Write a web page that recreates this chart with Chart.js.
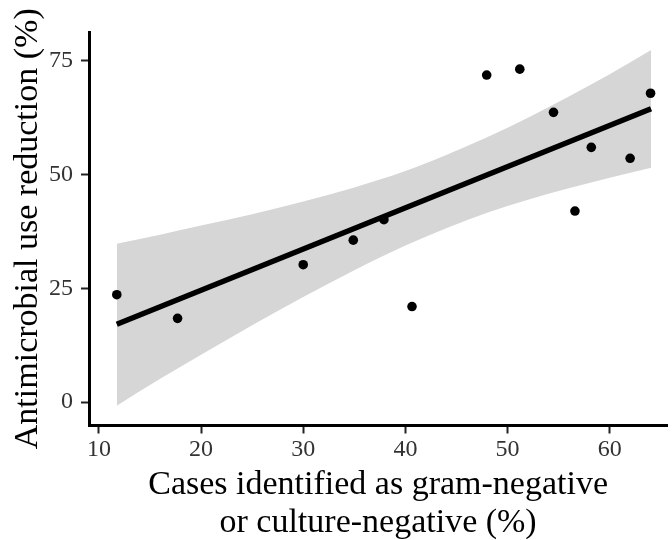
<!DOCTYPE html>
<html>
<head>
<meta charset="utf-8">
<script src="https://cdn.jsdelivr.net/npm/chart.js@4/dist/chart.umd.min.js"></script>
<style>
  body { margin: 0; background: #fff; }
  #chart { display: block; }
</style>
</head>
<body>
<canvas id="chart" width="672" height="540"></canvas>
<script>
// observed points (x = % gram-neg or culture-neg, y = % reduction)
const caseX = [11.75, 17.7, 30.0, 34.9, 37.9, 40.65, 47.96, 51.2, 54.5, 56.6, 58.2, 62.0, 64.0];
const reductionY = [23.6, 18.4, 30.2, 35.6, 40.1, 21.0, 71.9, 73.2, 63.7, 42.0, 56.0, 53.6, 67.9];

// fitted line end points
const fitX = [11.75, 64.05];
const fitY = [17.1, 64.5];

// confidence band
const bandX = [11.75, 16, 20, 25, 30, 35, 40, 44, 48, 52, 56, 60, 64.05];
const bandUpper = [34.8, 36.8, 38.8, 41.3, 44.1, 47.2, 50.8, 54.3, 58.2, 62.5, 67.2, 72.1, 77.4];
const bandLower = [-0.8, 5.1, 10.4, 16.9, 23.1, 29.0, 34.4, 38.2, 41.6, 44.5, 47.0, 49.3, 51.5];

// tick labels
const xTicks = [10, 20, 30, 40, 50, 60];
const yTicks = [0, 25, 50, 75];

const xTitle = ['Cases identified as gram-negative', 'or culture-negative (%)'];
const yTitle = 'Antimicrobial use reduction (%)';

function toXY(xs, ys) {
  return xs.map((x, i) => ({ x: x, y: ys[i] }));
}

const serif = "'Liberation Serif', 'DejaVu Serif', serif";

var ctx = document.getElementById('chart').getContext('2d');
var myChart = new Chart(ctx, {
  type: 'scatter',
  data: {
    datasets: [
      {
        label: 'points',
        data: toXY(caseX, reductionY),
        backgroundColor: '#000',
        borderColor: '#000',
        pointRadius: 4.8,
        pointBorderWidth: 0
      },
      {
        label: 'fit',
        data: toXY(fitX, fitY),
        showLine: true,
        borderColor: '#000',
        borderWidth: 5.5,
        pointRadius: 0,
        borderCapStyle: 'butt'
      },
      {
        label: 'upper',
        data: toXY(bandX, bandUpper),
        showLine: true,
        borderWidth: 0,
        pointRadius: 0,
        cubicInterpolationMode: 'monotone',
        backgroundColor: 'rgb(214,214,214)',
        fill: '+1'
      },
      {
        label: 'lower',
        data: toXY(bandX, bandLower),
        showLine: true,
        borderWidth: 0,
        pointRadius: 0,
        cubicInterpolationMode: 'monotone',
        fill: false
      }
    ]
  },
  options: {
    responsive: false,
    animation: false,
    layout: { padding: { top: 32, right: 0, bottom: 0, left: 0 } },
    plugins: {
      legend: { display: false },
      tooltip: { enabled: false }
    },
    scales: {
      x: {
        type: 'linear',
        min: 9.03,
        max: 65.63,
        afterBuildTicks: (axis) => { axis.ticks = xTicks.map(v => ({ value: v })); },
        afterFit: (axis) => { axis.height = 114.5; },
        border: { display: true, color: '#000', width: 3 },
        grid: { drawOnChartArea: false, drawTicks: true, tickLength: 8, tickColor: '#222', tickWidth: 2 },
        ticks: { color: '#333', padding: 2, font: { family: serif, size: 24 } },
        title: {
          display: true,
          text: xTitle,
          color: '#000',
          font: { family: serif, size: 34, lineHeight: 1.12 },
          padding: { top: 0, bottom: -2 }
        }
      },
      y: {
        type: 'linear',
        min: -5.16,
        max: 81.37,
        afterBuildTicks: (axis) => { axis.ticks = yTicks.map(v => ({ value: v })); },
        afterFit: (axis) => { axis.width = 89; },
        border: { display: true, color: '#000', width: 3 },
        grid: { drawOnChartArea: false, drawTicks: true, tickLength: 8, tickColor: '#222', tickWidth: 2 },
        ticks: { color: '#333', padding: 8, font: { family: serif, size: 24 } },
        title: {
          display: true,
          text: yTitle,
          color: '#000',
          font: { family: serif, size: 34, lineHeight: 1.2 },
          padding: { top: 8, bottom: 0 }
        }
      }
    }
  }
});
</script>
</body>
</html>
